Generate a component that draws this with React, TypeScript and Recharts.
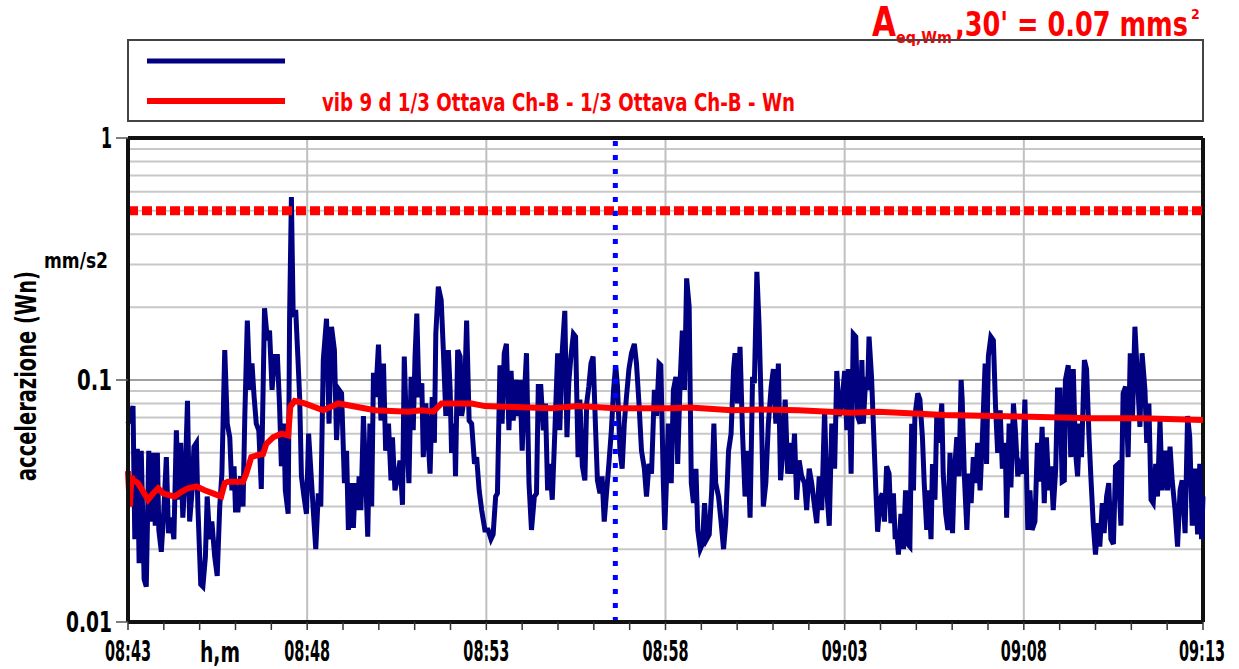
import React from 'react';
import { LineChart, Line, XAxis, YAxis, ReferenceLine } from 'recharts';

const FONT = "'DejaVu Sans Condensed', 'Liberation Sans Narrow', 'DejaVu Sans', sans-serif";

// minutes after 08:43, acceleration (mm/s2, Wn weighted)
const blueSamples: [number, number][] = [
  [0, 0.066], [0.14, 0.078], [0.19, 0.022], [0.26, 0.052], [0.31, 0.0175], [0.37, 0.051], [0.45, 0.015],
  [0.51, 0.014], [0.58, 0.051], [0.63, 0.026], [0.7, 0.05], [0.76, 0.025], [0.82, 0.05], [0.86, 0.024],
  [0.93, 0.0195], [1.0, 0.029], [1.07, 0.048], [1.13, 0.0233], [1.21, 0.027], [1.28, 0.022], [1.35, 0.062],
  [1.41, 0.032], [1.47, 0.055], [1.53, 0.027], [1.6, 0.041], [1.66, 0.082], [1.72, 0.026], [1.79, 0.035],
  [1.84, 0.053], [1.91, 0.055], [1.95, 0.03], [2.03, 0.0143], [2.09, 0.014], [2.16, 0.0186], [2.21, 0.033],
  [2.28, 0.022], [2.34, 0.026], [2.42, 0.0186], [2.49, 0.0155], [2.56, 0.03], [2.62, 0.041], [2.7, 0.133],
  [2.77, 0.066], [2.84, 0.058], [2.9, 0.035], [2.96, 0.044], [3.0, 0.029], [3.07, 0.029], [3.14, 0.04],
  [3.21, 0.03], [3.26, 0.071], [3.33, 0.176], [3.4, 0.091], [3.46, 0.117], [3.52, 0.085], [3.58, 0.066],
  [3.65, 0.062], [3.72, 0.0355], [3.77, 0.091], [3.81, 0.198], [3.89, 0.146], [3.95, 0.16], [4.02, 0.091],
  [4.09, 0.125], [4.17, 0.125], [4.23, 0.078], [4.28, 0.044], [4.35, 0.066], [4.39, 0.035], [4.47, 0.028],
  [4.51, 0.182], [4.56, 0.57], [4.61, 0.182], [4.68, 0.195], [4.74, 0.125], [4.79, 0.085], [4.84, 0.04],
  [4.91, 0.033], [4.98, 0.028], [5.04, 0.06], [5.17, 0.029], [5.24, 0.02], [5.31, 0.034], [5.38, 0.03],
  [5.45, 0.121], [5.54, 0.179], [5.61, 0.066], [5.68, 0.166], [5.76, 0.133], [5.82, 0.0565], [5.89, 0.091],
  [5.96, 0.088], [6.04, 0.0375], [6.1, 0.051], [6.15, 0.024], [6.22, 0.0375], [6.29, 0.0245], [6.34, 0.0375],
  [6.41, 0.029], [6.45, 0.04], [6.5, 0.029], [6.57, 0.071], [6.63, 0.041], [6.69, 0.0225], [6.75, 0.066],
  [6.8, 0.03], [6.85, 0.107], [6.91, 0.085], [6.99, 0.14], [7.06, 0.068], [7.13, 0.117], [7.19, 0.051],
  [7.27, 0.066], [7.34, 0.0385], [7.38, 0.058], [7.45, 0.035], [7.53, 0.04], [7.59, 0.0465], [7.66, 0.0305],
  [7.71, 0.125], [7.78, 0.0565], [7.84, 0.0375], [7.9, 0.103], [7.96, 0.062], [8.01, 0.125], [8.06, 0.188],
  [8.12, 0.085], [8.2, 0.097], [8.24, 0.048], [8.31, 0.08], [8.38, 0.055], [8.43, 0.041], [8.49, 0.085],
  [8.55, 0.055], [8.59, 0.155], [8.66, 0.243], [8.74, 0.214], [8.8, 0.133], [8.87, 0.071], [8.94, 0.133],
  [8.99, 0.091], [9.03, 0.05], [9.11, 0.066], [9.14, 0.04], [9.2, 0.133], [9.27, 0.125], [9.31, 0.071],
  [9.39, 0.085], [9.45, 0.176], [9.52, 0.068], [9.59, 0.066], [9.67, 0.045], [9.73, 0.048], [9.8, 0.035],
  [9.87, 0.029], [9.96, 0.024], [10.05, 0.024], [10.13, 0.022], [10.19, 0.023], [10.26, 0.033], [10.31, 0.034],
  [10.38, 0.115], [10.44, 0.066], [10.5, 0.129], [10.56, 0.141], [10.63, 0.062], [10.69, 0.109], [10.75, 0.068],
  [10.82, 0.1], [10.89, 0.071], [10.94, 0.1], [11.0, 0.051], [11.06, 0.085], [11.12, 0.129], [11.19, 0.0375],
  [11.26, 0.024], [11.34, 0.033], [11.4, 0.034], [11.45, 0.094], [11.52, 0.094], [11.59, 0.062], [11.65, 0.08],
  [11.71, 0.035], [11.77, 0.045], [11.84, 0.032], [11.91, 0.06], [11.99, 0.129], [12.05, 0.062], [12.12, 0.133],
  [12.19, 0.193], [12.25, 0.058], [12.3, 0.097], [12.36, 0.125], [12.43, 0.155], [12.49, 0.151], [12.56, 0.048],
  [12.61, 0.083], [12.68, 0.044], [12.75, 0.0385], [12.8, 0.08], [12.86, 0.094], [12.92, 0.117], [12.98, 0.125],
  [13.05, 0.062], [13.1, 0.0385], [13.17, 0.034], [13.23, 0.04], [13.29, 0.026], [13.36, 0.035], [13.42, 0.045],
  [13.49, 0.062], [13.55, 0.091], [13.61, 0.115], [13.66, 0.094], [13.73, 0.051], [13.79, 0.043], [13.85, 0.066],
  [13.91, 0.085], [13.98, 0.111], [14.05, 0.129], [14.13, 0.141], [14.19, 0.117], [14.26, 0.08], [14.33, 0.051],
  [14.41, 0.043], [14.47, 0.033], [14.54, 0.045], [14.61, 0.041], [14.69, 0.091], [14.75, 0.071], [14.82, 0.117],
  [14.87, 0.115], [14.94, 0.0375], [14.98, 0.024], [15.08, 0.066], [15.16, 0.0375], [15.22, 0.091], [15.29, 0.103],
  [15.34, 0.045], [15.41, 0.1], [15.47, 0.16], [15.53, 0.091], [15.59, 0.263], [15.66, 0.201], [15.72, 0.0375],
  [15.78, 0.031], [15.85, 0.043], [15.9, 0.024], [15.97, 0.02], [16.03, 0.021], [16.09, 0.031], [16.15, 0.022],
  [16.22, 0.023], [16.29, 0.035], [16.35, 0.066], [16.4, 0.0375], [16.48, 0.033], [16.55, 0.026], [16.62, 0.02],
  [16.68, 0.0256], [16.76, 0.051], [16.83, 0.06], [16.9, 0.111], [16.94, 0.129], [17.01, 0.08], [17.08, 0.137],
  [17.15, 0.06], [17.22, 0.033], [17.3, 0.051], [17.36, 0.027], [17.43, 0.103], [17.48, 0.097], [17.55, 0.28],
  [17.61, 0.171], [17.67, 0.08], [17.73, 0.03], [17.8, 0.0375], [17.87, 0.066], [17.95, 0.094], [18.01, 0.111],
  [18.08, 0.066], [18.15, 0.117], [18.21, 0.0385], [18.26, 0.048], [18.34, 0.083], [18.41, 0.041], [18.48, 0.055],
  [18.54, 0.041], [18.6, 0.06], [18.66, 0.032], [18.73, 0.0465], [18.8, 0.04], [18.88, 0.0375], [18.94, 0.029],
  [19.01, 0.043], [19.08, 0.0375], [19.16, 0.03], [19.22, 0.0256], [19.29, 0.04], [19.36, 0.029], [19.44, 0.075],
  [19.5, 0.035], [19.57, 0.025], [19.64, 0.066], [19.72, 0.043], [19.78, 0.109], [19.85, 0.071], [19.92, 0.08],
  [20.0, 0.109], [20.06, 0.062], [20.1, 0.111], [20.15, 0.066], [20.18, 0.041], [20.24, 0.155], [20.31, 0.151],
  [20.36, 0.071], [20.43, 0.066], [20.48, 0.121], [20.52, 0.066], [20.59, 0.103], [20.64, 0.091], [20.68, 0.151],
  [20.75, 0.103], [20.8, 0.066], [20.87, 0.035], [20.92, 0.0236], [20.99, 0.032], [21.05, 0.034], [21.11, 0.026],
  [21.17, 0.044], [21.24, 0.041], [21.29, 0.0256], [21.36, 0.034], [21.41, 0.022], [21.45, 0.024], [21.5, 0.019],
  [21.57, 0.028], [21.64, 0.02], [21.7, 0.035], [21.76, 0.021], [21.82, 0.0205], [21.87, 0.066], [21.92, 0.035],
  [21.96, 0.071], [22.04, 0.088], [22.1, 0.083], [22.17, 0.058], [22.22, 0.0375], [22.29, 0.024], [22.34, 0.035],
  [22.41, 0.022], [22.45, 0.045], [22.52, 0.032], [22.57, 0.071], [22.63, 0.055], [22.71, 0.08], [22.75, 0.041],
  [22.82, 0.028], [22.88, 0.024], [22.94, 0.05], [23.01, 0.0233], [23.06, 0.041], [23.13, 0.058], [23.19, 0.04],
  [23.25, 0.1], [23.28, 0.083], [23.34, 0.04], [23.41, 0.024], [23.47, 0.041], [23.53, 0.031], [23.59, 0.048],
  [23.66, 0.0375], [23.71, 0.055], [23.78, 0.035], [23.84, 0.0565], [23.92, 0.117], [23.96, 0.045], [24.01, 0.125],
  [24.08, 0.151], [24.15, 0.146], [24.21, 0.078], [24.27, 0.05], [24.34, 0.075], [24.4, 0.043], [24.48, 0.055],
  [24.52, 0.027], [24.59, 0.066], [24.64, 0.036], [24.71, 0.08], [24.77, 0.06], [24.83, 0.04], [24.89, 0.044],
  [24.96, 0.041], [25.03, 0.083], [25.11, 0.024], [25.17, 0.035], [25.23, 0.024], [25.31, 0.026], [25.38, 0.055],
  [25.45, 0.038], [25.51, 0.064], [25.57, 0.031], [25.63, 0.058], [25.7, 0.035], [25.76, 0.044], [25.82, 0.029],
  [25.89, 0.043], [25.94, 0.091], [26.01, 0.091], [26.07, 0.038], [26.13, 0.0385], [26.16, 0.1], [26.24, 0.115],
  [26.31, 0.048], [26.38, 0.111], [26.44, 0.051], [26.5, 0.04], [26.56, 0.066], [26.61, 0.048], [26.69, 0.121],
  [26.75, 0.111], [26.82, 0.058], [26.87, 0.04], [26.94, 0.025], [27.0, 0.019], [27.06, 0.0256], [27.12, 0.0205],
  [27.19, 0.031], [27.24, 0.0233], [27.31, 0.033], [27.37, 0.0375], [27.43, 0.022], [27.5, 0.021], [27.56, 0.044],
  [27.63, 0.045], [27.71, 0.025], [27.77, 0.088], [27.84, 0.094], [27.91, 0.048], [27.97, 0.129], [28.03, 0.068],
  [28.1, 0.166], [28.17, 0.103], [28.24, 0.064], [28.3, 0.129], [28.38, 0.091], [28.43, 0.055], [28.49, 0.08],
  [28.55, 0.032], [28.61, 0.031], [28.68, 0.045], [28.73, 0.033], [28.8, 0.068], [28.86, 0.035], [28.94, 0.051],
  [29.01, 0.035], [29.08, 0.053], [29.14, 0.0385], [29.22, 0.029], [29.29, 0.0205], [29.36, 0.035], [29.42, 0.0385],
  [29.5, 0.0233], [29.57, 0.071], [29.63, 0.058], [29.7, 0.025], [29.77, 0.043], [29.85, 0.023], [29.91, 0.045],
  [29.96, 0.022], [30.0, 0.033],
];

// running equivalent level (Leq) of the same channel
const leqSamples: [number, number][] = [
  [0, 0.042], [0.05, 0.03], [0.1, 0.04], [0.14, 0.0386], [0.28, 0.0375], [0.42, 0.0346], [0.56, 0.032],
  [0.7, 0.034], [0.84, 0.0357], [0.98, 0.034], [1.12, 0.0335], [1.3, 0.033], [1.49, 0.0345], [1.67, 0.0357],
  [1.91, 0.0363], [2.14, 0.035], [2.37, 0.034], [2.6, 0.033], [2.7, 0.0375], [2.79, 0.038], [3.21, 0.038],
  [3.3, 0.041], [3.44, 0.048], [3.63, 0.049], [3.77, 0.0495], [3.86, 0.0545], [4.05, 0.058], [4.28, 0.06],
  [4.47, 0.059], [4.53, 0.0776], [4.65, 0.082], [4.93, 0.08], [5.45, 0.075], [5.87, 0.08], [6.89, 0.075],
  [7.82, 0.074], [8.2, 0.075], [8.52, 0.074], [8.75, 0.08], [9.59, 0.08], [9.96, 0.078], [11.82, 0.0765],
  [12.56, 0.078], [13.59, 0.0765], [15.12, 0.0765], [15.69, 0.077], [16.85, 0.075], [17.69, 0.0755],
  [18.71, 0.075], [20.15, 0.0733], [20.94, 0.074], [22.8, 0.0717], [25.17, 0.0705], [26.89, 0.0695],
  [28.29, 0.0695], [30, 0.0684],
];

const minuteTicks = [0, 1, 2, 3, 4, 5, 6, 7, 8, 9, 10, 11, 12, 13, 14, 15, 16, 17, 18, 19, 20, 21, 22, 23, 24, 25, 26, 27, 28, 29, 30];
const labelledMinutes = [0, 5, 10, 15, 20, 25, 30];
const yTicks = [0.01, 0.1, 1];
const yTickLabels = ['0.01', '0.1', '1'];
const minorGrid = [0.02, 0.03, 0.04, 0.05, 0.06, 0.07, 0.08, 0.09, 0.2, 0.3, 0.4, 0.5, 0.6, 0.7, 0.8, 0.9];
const limitValue = 0.5;
const markerMinute = 13.6;
const startHour = 8;
const startMinute = 43;

const blueData = blueSamples.map(([t, v]) => ({ t, v }));
const leqData = leqSamples.map(([t, v]) => ({ t, v }));

const fmtTime = (m: number) => {
  const total = startHour * 60 + startMinute + m;
  const hh = String(Math.floor(total / 60)).padStart(2, '0');
  const mm = String(total % 60).padStart(2, '0');
  return `${hh}:${mm}`;
};

const XTick = ({ x, y, payload }: any) => {
  if (!labelledMinutes.includes(payload.value)) return <g />;
  const last = payload.value === 30;
  return (
    <text x={last ? x - 1 : x} y={y + 29} textAnchor="middle" fontFamily={FONT} fontWeight="bold" fontSize={28}
      textLength={46} lengthAdjust="spacingAndGlyphs" fill="#000">
      {fmtTime(payload.value)}
    </text>
  );
};

const YTick = ({ x, y, payload }: any) => {
  const label = yTickLabels[yTicks.indexOf(payload.value)] ?? '';
  const w = label.length === 1 ? 11 : label.length === 3 ? 35 : 46;
  return (
    <text x={x - 2} y={y + 10} textAnchor="end" fontFamily={FONT} fontWeight="bold" fontSize={29}
      textLength={w} lengthAdjust="spacingAndGlyphs" fill="#000">
      {label}
    </text>
  );
};

const App: React.FC = () => {
  return (
    <div style={{ position: 'absolute', left: 0, top: 0, width: 1239, height: 669, background: '#fff' }}>
      <LineChart width={1239} height={669} margin={{ top: 138, right: 36, bottom: 7, left: 68 }}>
        <XAxis
          dataKey="t"
          type="number"
          domain={[0, 30]}
          ticks={minuteTicks}
          interval={0}
          allowDuplicatedCategory={false}
          height={40}
          tick={<XTick />}
          tickSize={8}
          tickLine={{ stroke: '#333', strokeWidth: 1.5 }}
          axisLine={{ stroke: '#111', strokeWidth: 4 }}
        />
        <YAxis
          dataKey="v"
          scale="log"
          domain={[0.01, 1]}
          allowDataOverflow
          ticks={yTicks}
          interval={0}
          width={60}
          tick={<YTick />}
          tickSize={12}
          tickLine={{ stroke: '#555', strokeWidth: 1.5 }}
          axisLine={{ stroke: '#111', strokeWidth: 4 }}
        />
        {minorGrid.map((g) => (
          <ReferenceLine key={`h${g}`} y={g} stroke="#c8c8c8" strokeWidth={2} />
        ))}
        <ReferenceLine y={0.1} stroke="#808080" strokeWidth={1.5} />
        {labelledMinutes.slice(1, -1).map((m) => (
          <ReferenceLine key={`v${m}`} x={m} stroke="#c0c0c0" strokeWidth={2} />
        ))}
        <ReferenceLine y={1} stroke="#111" strokeWidth={4} />
        <ReferenceLine x={30} stroke="#111" strokeWidth={4} />
        <Line data={blueData} dataKey="v" type="linear" stroke="#000080" strokeWidth={5}
          dot={false} activeDot={false} isAnimationActive={false} />
        <ReferenceLine y={limitValue} stroke="#ff0000" strokeWidth={9} strokeDasharray="10 4" />
        <ReferenceLine x={markerMinute} stroke="#0000ff" strokeWidth={5} strokeDasharray="5 9" />
        <Line data={leqData} dataKey="v" type="linear" stroke="#ff0000" strokeWidth={6}
          dot={false} activeDot={false} isAnimationActive={false} />
      </LineChart>

      <svg width={1239} height={669} style={{ position: 'absolute', left: 0, top: 0, pointerEvents: 'none' }}>
        {/* title */}
        <text y={36} fontFamily={FONT} fontWeight="bold" fill="#ff0000">
          <tspan x={872} fontSize={40} textLength={24} lengthAdjust="spacingAndGlyphs">A</tspan>
          <tspan x={896} dy={7} fontSize={16} textLength={56} lengthAdjust="spacingAndGlyphs">eq,Wm</tspan>
          <tspan x={955} dy={-7} fontSize={33} textLength={233} lengthAdjust="spacingAndGlyphs">,30' = 0.07 mms</tspan>
          <tspan x={1191} dy={-17} fontSize={14}>2</tspan>
        </text>

        {/* legend */}
        <rect x={128} y={40} width={1075} height={81} fill="none" stroke="#444" strokeWidth={2} />
        <line x1={147} x2={285} y1={61} y2={61} stroke="#000080" strokeWidth={5} />
        <line x1={147} x2={285} y1={101} y2={101} stroke="#ff0000" strokeWidth={6} />
        <text x={322} y={111} fontFamily={FONT} fontWeight="bold" fontSize={25} fill="#ff0000" textLength={473} lengthAdjust="spacingAndGlyphs">
          vib 9 d 1/3 Ottava Ch-B - 1/3 Ottava Ch-B - Wn
        </text>

        {/* axis titles */}
        <text x={44} y={268} fontFamily={FONT} fontWeight="bold" fontSize={22} fill="#000" textLength={64} lengthAdjust="spacingAndGlyphs">mm/s2</text>
        <text transform="translate(36,376) rotate(-90)" textAnchor="middle" fontFamily={FONT} fontWeight="bold" fontSize={28}
          fill="#000" textLength={210} lengthAdjust="spacingAndGlyphs">accelerazione (Wn)</text>
        <text x={200} y={662} fontFamily={FONT} fontWeight="bold" fontSize={28} fill="#000" textLength={40} lengthAdjust="spacingAndGlyphs">h,m</text>
      </svg>
    </div>
  );
};

export default App;
